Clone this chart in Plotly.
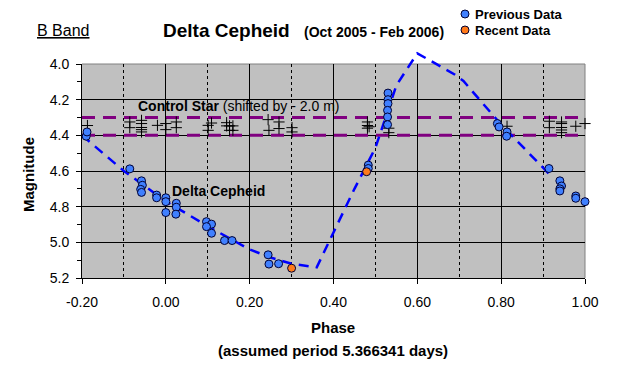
import plotly.graph_objects as go

# ---------------- data ----------------
prev_phase = [-0.190, -0.188, -0.086, -0.058, -0.056, -0.060, -0.058, -0.022, -0.022,
              0.000, 0.000, 0.000, 0.025, 0.025, 0.024, 0.097, 0.109, 0.097, 0.109,
              0.140, 0.158, 0.244, 0.246, 0.269, 0.483, 0.483, 0.530, 0.530, 0.530,
              0.529, 0.529, 0.529, 0.791, 0.795, 0.814, 0.813, 0.914, 0.940, 0.944,
              0.940, 0.940, 0.978, 0.978, 1.000]
prev_mag = [4.405, 4.381, 4.588, 4.655, 4.680, 4.703, 4.720, 4.735, 4.750,
            4.750, 4.772, 4.833, 4.781, 4.803, 4.842, 4.884, 4.898, 4.912, 4.949,
            4.990, 4.990, 5.070, 5.122, 5.120, 4.567, 4.586, 4.163, 4.200, 4.222,
            4.260, 4.297, 4.340, 4.334, 4.353, 4.381, 4.405, 4.586, 4.655, 4.684,
            4.700, 4.712, 4.740, 4.753, 4.772]

recent_phase = [0.300, 0.479]
recent_mag = [5.145, 4.604]

cs_phase = [-0.187, -0.086, -0.086, -0.058, -0.058, -0.058, -0.058, -0.058, -0.020,
            0.000, 0.000, 0.025, 0.025, 0.101, 0.101, 0.109, 0.145, 0.145, 0.152,
            0.152, 0.160, 0.160, 0.244, 0.246, 0.270, 0.270, 0.301, 0.301, 0.481,
            0.481, 0.481, 0.485, 0.532, 0.532, 0.814, 0.915, 0.915, 0.944, 0.944,
            0.944, 0.944, 0.944, 0.978, 1.000]
cs_mag = [4.345, 4.325, 4.357, 4.316, 4.334, 4.356, 4.368, 4.381, 4.344,
          4.334, 4.368, 4.325, 4.357, 4.344, 4.372, 4.331, 4.329, 4.347, 4.347,
          4.372, 4.347, 4.372, 4.312, 4.372, 4.325, 4.362, 4.357, 4.381, 4.325,
          4.345, 4.360, 4.352, 4.360, 4.385, 4.349, 4.321, 4.357, 4.325, 4.334,
          4.356, 4.370, 4.385, 4.349, 4.334]

cs_band_phase = [-0.20, 1.00]
cs_band_upper = [4.30, 4.30]
cs_band_lower = [4.40, 4.40]

model_phase = [-0.20, -0.10, 0.00, 0.10, 0.20, 0.25, 0.30, 0.36, 0.45, 0.50,
               0.55, 0.60, 0.69, 0.71, 0.73, 0.80, 0.92]
model_mag = [4.40, 4.60, 4.77, 4.91, 5.04, 5.085, 5.12, 5.14, 4.70, 4.47,
             4.12, 3.94, 4.06, 4.095, 4.15, 4.34, 4.63]

x_ticks = [-0.2, 0.0, 0.2, 0.4, 0.6, 0.8, 1.0]
x_ticklabels = ["-0.20", "0.00", "0.20", "0.40", "0.60", "0.80", "1.00"]
y_ticks = [4.0, 4.2, 4.4, 4.6, 4.8, 5.0, 5.2]
y_ticklabels = ["4.0", "4.2", "4.4", "4.6", "4.8", "5.0", "5.2"]
x_range = [-0.2, 1.0]
y_range = [5.2, 4.0]

FONT = "Arial, Liberation Sans, sans-serif"
BLUE = "#4080FF"
ORANGE = "#FF7A1A"

# ---------------- geometry ----------------
W, H = 619, 365
L, R, B = 82, 34, 87
PLOT_TOP = 64          # top of the gray plot area (px)
T = 44                 # top of the extended overlay area (px)
pw = W - L - R
ph_total = H - T - B
ph_main = H - PLOT_TOP - B
d = ph_main / ph_total
y2_top = y_range[0] - (y_range[0] - y_range[1]) / d


def px2paper(x, y):
    return (x - L) / pw, (H - B - y) / ph_total


fig = go.Figure()

for yy in (cs_band_upper, cs_band_lower):
    fig.add_trace(go.Scatter(x=cs_band_phase, y=yy, mode="lines", xaxis="x", yaxis="y",
                             line=dict(color="#800080", width=3, dash="13px,8px"),
                             hoverinfo="skip", showlegend=False))

fig.add_trace(go.Scatter(x=model_phase, y=model_mag, mode="lines",
                         xaxis="x2", yaxis="y2",
                         line=dict(color="#0000FF", width=2.5, dash="10px,7px"),
                         cliponaxis=False, showlegend=False))

fig.add_trace(go.Scatter(x=cs_phase, y=cs_mag, mode="markers", xaxis="x2", yaxis="y2",
                         marker=dict(symbol="cross-thin", size=8,
                                     line=dict(color="black", width=1)),
                         cliponaxis=False, showlegend=False))

fig.add_trace(go.Scatter(x=prev_phase, y=prev_mag, mode="markers", xaxis="x2", yaxis="y2",
                         marker=dict(symbol="circle", size=8, color=BLUE,
                                     line=dict(color="#000033", width=1)),
                         cliponaxis=False, showlegend=False))

fig.add_trace(go.Scatter(x=recent_phase, y=recent_mag, mode="markers", xaxis="x2", yaxis="y2",
                         marker=dict(symbol="circle", size=8, color=ORANGE,
                                     line=dict(color="#000033", width=1)),
                         cliponaxis=False, showlegend=False))

layout_ann = []


def add_text(text, x, y, size, anchor="left", angle=0):
    px, py = px2paper(x, y)
    layout_ann.append(dict(text=text, x=px, y=py, xref="paper", yref="paper",
                           xanchor=anchor, yanchor="middle", showarrow=False,
                           textangle=angle, borderpad=0,
                           font=dict(family=FONT, size=size, color="black")))


add_text("<u>B Band</u>", 36, 31, 16)
add_text("<b>Delta Cepheid</b>", 162, 30, 19)
add_text("<b>(Oct 2005 - Feb 2006)</b>", 303, 32, 14)
add_text("<b>Previous Data</b>", 474, 14, 13)
add_text("<b>Recent Data</b>", 474, 30, 13)
add_text("<b>Control Star</b> <span style='font-size:14px;font-weight:normal'>(shifted by - 2.0 m)</span>",
         137, 106, 14)
add_text("<b>Delta Cepheid</b>", 171, 191, 14)
add_text("<b>Magnitude</b>", 28, 175, 15, anchor="center", angle=-90)
add_text("<b>Phase</b>", 333, 327, 15, anchor="center")
add_text("<b>(assumed period 5.366341 days)</b>", 333, 350, 15, anchor="center")

shapes = []
# gray plot area
shapes.append(dict(type="rect", xref="x domain", yref="y domain", x0=0, x1=1, y0=0, y1=1,
                   fillcolor="#C0C0C0", line=dict(width=0), layer="below"))
# legend markers
for y, col in [(14, BLUE), (30, ORANGE)]:
    px, py = px2paper(465, y)
    shapes.append(dict(type="circle", xref="paper", yref="paper",
                       xsizemode="pixel", ysizemode="pixel", xanchor=px, yanchor=py,
                       x0=-4, x1=4, y0=-4, y1=4, fillcolor=col,
                       line=dict(color="#000033", width=1)))
# gray top/right frame
shapes.append(dict(type="line", xref="x domain", yref="y domain", x0=0, x1=1, y0=1, y1=1,
                   line=dict(color="#808080", width=1), layer="below"))
shapes.append(dict(type="line", xref="x domain", yref="y domain", x0=1, x1=1, y0=0, y1=1,
                   line=dict(color="#808080", width=1), layer="below"))

fig.update_layout(
    width=W, height=H,
    margin=dict(l=L, r=R, t=T, b=B, pad=0),
    paper_bgcolor="white", plot_bgcolor="rgba(0,0,0,0)",
    showlegend=False,
    font=dict(family=FONT, size=14, color="black"),
    annotations=layout_ann,
    shapes=shapes,
    xaxis=dict(range=x_range, domain=[0, 1], tickvals=x_ticks, ticktext=x_ticklabels,
               showgrid=True, gridcolor="black", gridwidth=1,
               zeroline=False, showline=True, linecolor="black", linewidth=1,
               ticks="outside", ticklen=5, tickcolor="black", ticklabelstandoff=6,
               tickfont=dict(size=14, family=FONT),
               minor=dict(dtick=0.1, tick0=-0.2, showgrid=True, gridcolor="black",
                          griddash="dot", gridwidth=1, ticks="")),
    yaxis=dict(range=y_range, domain=[0, d], tickvals=y_ticks, ticktext=y_ticklabels,
               showgrid=True, gridcolor="black", gridwidth=1,
               zeroline=False, showline=True, linecolor="black", linewidth=1,
               ticks="outside", ticklen=5, tickcolor="black",
               tickfont=dict(size=14, family=FONT), ticklabelstandoff=4,
               minor=dict(dtick=0.1, tick0=4.0, ticks="outside", ticklen=4,
                          tickcolor="black", showgrid=False)),
    xaxis2=dict(range=x_range, domain=[0, 1], anchor="y2", visible=False),
    yaxis2=dict(range=[y_range[0], y2_top], domain=[0, 1], anchor="x2", visible=False),
)

fig.write_html("out.html", config={"displayModeBar": False},
               post_script="document.body.style.margin='0px';")
